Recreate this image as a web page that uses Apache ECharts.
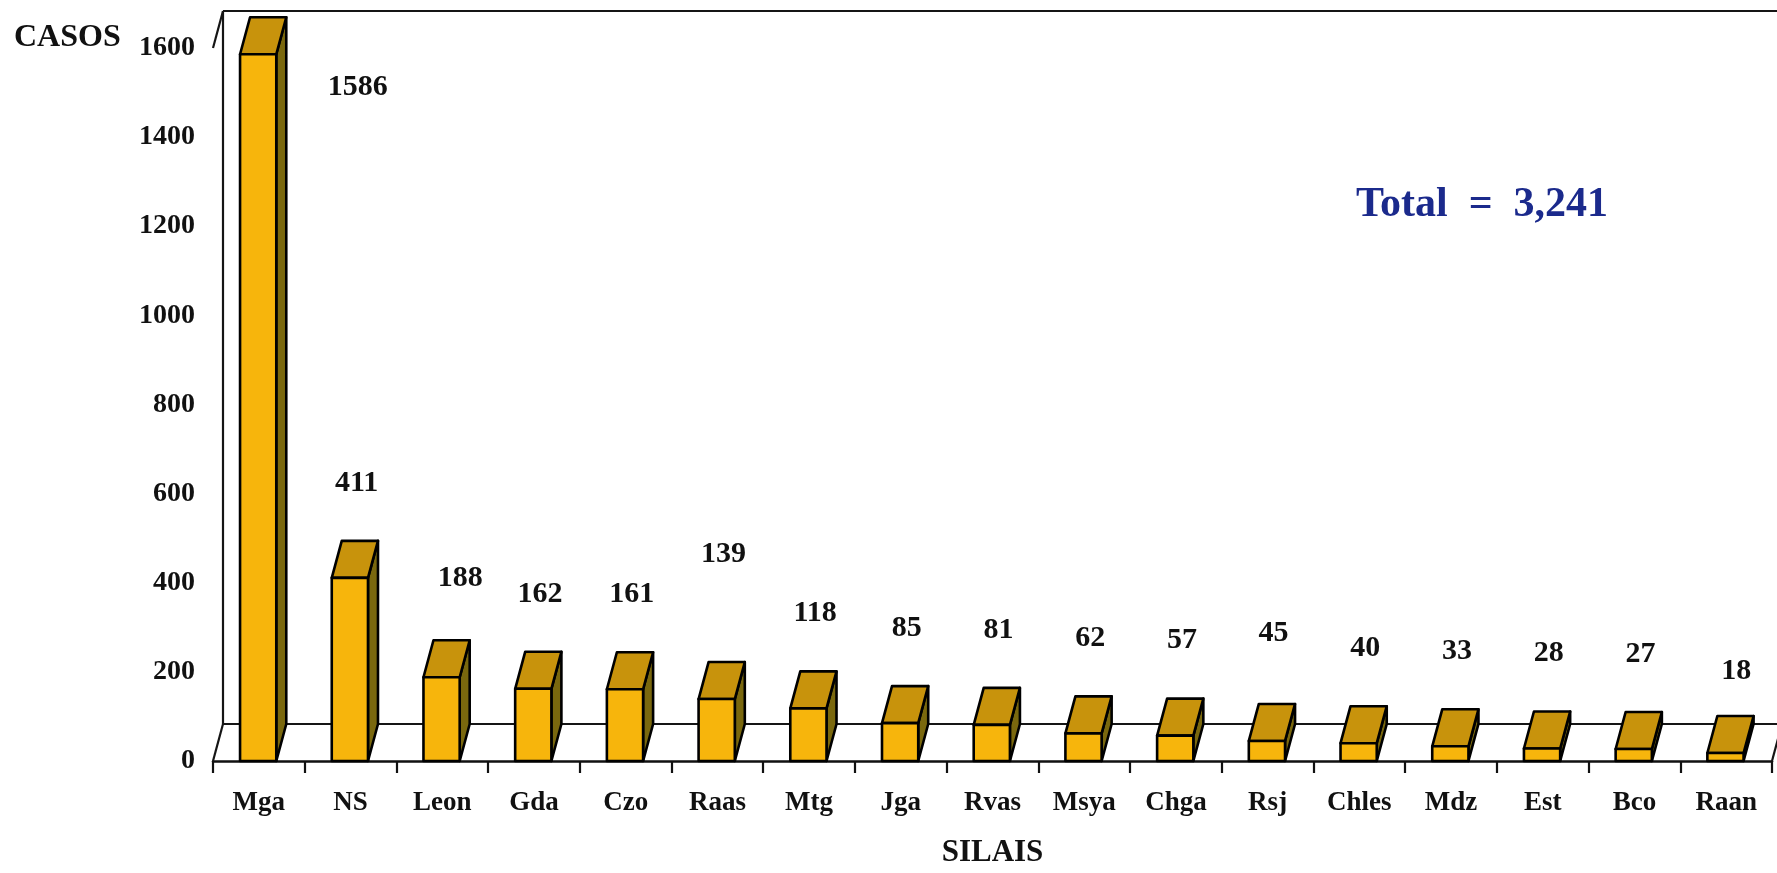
<!DOCTYPE html>
<html>
<head>
<meta charset="utf-8">
<title>Casos por SILAIS</title>
<script src="https://cdn.jsdelivr.net/npm/echarts@6.0.0/dist/echarts.min.js"></script>
<style>
  html, body { margin: 0; padding: 0; background: #ffffff; }
  #chart { width: 1777px; height: 873px; }
</style>
</head>
<body>
<div id="chart"></div>
<script>
// Casos por SILAIS
const categories = ['Mga', 'NS', 'Leon', 'Gda', 'Czo', 'Raas', 'Mtg', 'Jga', 'Rvas',
                    'Msya', 'Chga', 'Rsj', 'Chles', 'Mdz', 'Est', 'Bco', 'Raan'];
const casos = [1586, 411, 188, 162, 161, 139, 118, 85, 81, 62, 57, 45, 40, 33, 28, 27, 18];
const yTicks = [0, 200, 400, 600, 800, 1000, 1200, 1400, 1600];

const SERIF = '"Liberation Serif", "Times New Roman", serif';
const INK = '#111111';

// pseudo-3D depth of the bars and of the floor / back wall (pixels)
const DX = 10, DY = -37;

const FACE_FRONT = '#F7B50C';
const FACE_TOP = '#C8930C';
const FACE_SIDE = '#7A680E';

// value labels that sit away from the default spot above their bar
const labelNudge = {
  Mga: [93, 128],
  Leon: [12, -4],
  Raas: [0, -50],
  Rsj: [0, -13],
  Raan: [4, 13]
};

const total = casos.reduce((a, b) => a + b, 0);
const totalText = 'Total  =  ' + total.toLocaleString('en-US');

const chart = echarts.init(document.getElementById('chart'), null, { renderer: 'canvas' });

function renderWalls(params, api) {
  const cs = params.coordSys;
  const xL = cs.x, xR = cs.x + cs.width;
  const yTop = cs.y, yBot = cs.y + cs.height;
  const line = (x1, y1, x2, y2) => ({
    type: 'line',
    shape: { x1, y1, x2, y2 },
    style: { stroke: '#151515', lineWidth: 2.2 }
  });
  return {
    type: 'group',
    children: [
      // floor: back edge and the two side edges
      line(xL + DX, yBot + DY, xR + DX, yBot + DY),
      line(xL, yBot, xL + DX, yBot + DY),
      line(xR, yBot, xR + DX, yBot + DY),
      // back wall: left edge and top edge
      line(xL + DX, yBot + DY, xL + DX, yTop + DY),
      line(xL + DX, yTop + DY, xR + DX + 20, yTop + DY),
      // side wall top edge
      line(xL, yTop, xL + DX, yTop + DY)
    ]
  };
}

function renderBar(params, api) {
  const idx = api.value(0);
  const v = api.value(1);
  const top = api.coord([idx, v]);
  const base = api.coord([idx, 0]);
  const band = api.size([1, 0])[0];
  const cx = base[0];
  const x0 = cx - band * 0.205;
  const x1 = cx + band * 0.19;
  const yT = top[1], yB = base[1];
  const edge = { stroke: '#000', lineWidth: 2.6, lineJoin: 'round' };
  const name = categories[idx];
  const nudge = labelNudge[name] || [0, 0];
  return {
    type: 'group',
    children: [
      {
        type: 'polygon',
        shape: { points: [[x1, yB], [x1 + DX, yB + DY], [x1 + DX, yT + DY], [x1, yT]] },
        style: Object.assign({ fill: FACE_SIDE }, edge)
      },
      {
        type: 'polygon',
        shape: { points: [[x0, yT], [x1, yT], [x1 + DX, yT + DY], [x0 + DX, yT + DY]] },
        style: Object.assign({ fill: FACE_TOP }, edge)
      },
      {
        type: 'rect',
        shape: { x: x0, y: yT, width: x1 - x0, height: yB - yT },
        style: Object.assign({ fill: FACE_FRONT }, edge)
      },
      {
        type: 'text',
        x: cx + 6 + nudge[0],
        y: yT - 95 + nudge[1],
        style: {
          text: String(v),
          align: 'center',
          verticalAlign: 'middle',
          font: 'bold 30px ' + SERIF,
          fill: INK
        }
      }
    ]
  };
}

const option = {
  backgroundColor: '#ffffff',
  animation: false,
  grid: { left: 213, right: 5, top: 48, bottom: 101, containLabel: false },
  xAxis: {
    type: 'category',
    data: categories,
    boundaryGap: true,
    name: 'SILAIS',
    nameLocation: 'middle',
    nameGap: 76,
    nameTextStyle: { fontFamily: SERIF, fontWeight: 'bold', fontSize: 31, color: INK },
    axisLine: { show: true, lineStyle: { color: '#111', width: 2.5 } },
    axisTick: { show: true, length: 12, alignWithLabel: false, lineStyle: { color: '#111', width: 2.2 } },
    axisLabel: {
      margin: 29,
      interval: 0,
      fontFamily: SERIF,
      fontWeight: 'bold',
      fontSize: 27,
      color: INK
    },
    splitLine: { show: false }
  },
  yAxis: {
    type: 'value',
    min: yTicks[0],
    max: yTicks[yTicks.length - 1],
    interval: yTicks[1] - yTicks[0],
    axisLine: { show: false },
    axisTick: { show: false },
    splitLine: { show: false },
    axisLabel: {
      margin: 18,
      fontFamily: SERIF,
      fontWeight: 'bold',
      fontSize: 28,
      color: INK,
      formatter: (val) => String(val)
    }
  },
  graphic: [
    {
      type: 'text',
      left: 14,
      top: 22,
      style: { text: 'CASOS', font: 'bold 32px ' + SERIF, fill: INK }
    },
    {
      type: 'text',
      x: 1482,
      y: 205,
      style: {
        text: totalText,
        align: 'center',
        verticalAlign: 'middle',
        font: 'bold 42px ' + SERIF,
        fill: '#1B2A8C'
      }
    }
  ],
  series: [
    {
      type: 'custom',
      name: 'planos',
      z: 1,
      silent: true,
      renderItem: renderWalls,
      data: [[0, 0]]
    },
    {
      type: 'custom',
      name: 'Casos',
      z: 2,
      renderItem: renderBar,
      encode: { x: 0, y: 1 },
      data: casos.map((v, i) => [i, v])
    }
  ]
};

chart.setOption(option);
</script>
</body>
</html>
